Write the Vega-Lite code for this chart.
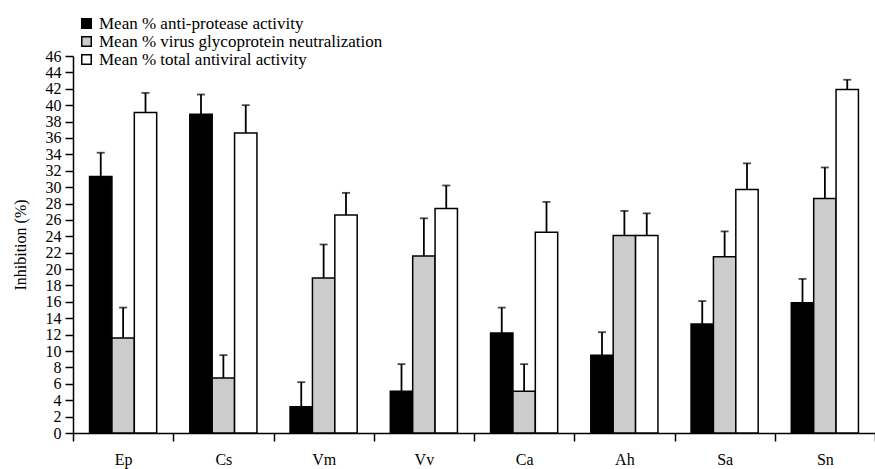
{
  "$schema": "https://vega.github.io/schema/vega-lite/v6.json",
  "width": 802,
  "height": 377,
  "autosize": {"type": "none"},
  "padding": {"left": 73, "top": 56, "right": 0, "bottom": 36},
  "background": "white",
  "config": {
    "view": {"stroke": null},
    "font": "Liberation Serif",
    "axis": {"domainColor": "black", "tickColor": "black", "labelColor": "black", "titleColor": "black", "grid": false, "domainWidth": 1.5, "tickWidth": 1.5, "labelFont": "Liberation Serif", "titleFont": "Liberation Serif"},
    "legend": {"labelFont": "Liberation Serif"}
  },
  "data": {
    "values": [
      {"group": "Ep", "series": "Mean % anti-protease activity", "value": 31.3, "upper": 34.2},
      {"group": "Ep", "series": "Mean % virus glycoprotein neutralization", "value": 11.6, "upper": 15.3},
      {"group": "Ep", "series": "Mean % total antiviral activity", "value": 39.1, "upper": 41.5},
      {"group": "Cs", "series": "Mean % anti-protease activity", "value": 38.9, "upper": 41.3},
      {"group": "Cs", "series": "Mean % virus glycoprotein neutralization", "value": 6.7, "upper": 9.5},
      {"group": "Cs", "series": "Mean % total antiviral activity", "value": 36.6, "upper": 40.0},
      {"group": "Vm", "series": "Mean % anti-protease activity", "value": 3.2, "upper": 6.2},
      {"group": "Vm", "series": "Mean % virus glycoprotein neutralization", "value": 18.9, "upper": 23.0},
      {"group": "Vm", "series": "Mean % total antiviral activity", "value": 26.6, "upper": 29.3},
      {"group": "Vv", "series": "Mean % anti-protease activity", "value": 5.1, "upper": 8.4},
      {"group": "Vv", "series": "Mean % virus glycoprotein neutralization", "value": 21.6, "upper": 26.2},
      {"group": "Vv", "series": "Mean % total antiviral activity", "value": 27.4, "upper": 30.2},
      {"group": "Ca", "series": "Mean % anti-protease activity", "value": 12.2, "upper": 15.3},
      {"group": "Ca", "series": "Mean % virus glycoprotein neutralization", "value": 5.1, "upper": 8.4},
      {"group": "Ca", "series": "Mean % total antiviral activity", "value": 24.5, "upper": 28.2},
      {"group": "Ah", "series": "Mean % anti-protease activity", "value": 9.5, "upper": 12.3},
      {"group": "Ah", "series": "Mean % virus glycoprotein neutralization", "value": 24.1, "upper": 27.1},
      {"group": "Ah", "series": "Mean % total antiviral activity", "value": 24.1, "upper": 26.8},
      {"group": "Sa", "series": "Mean % anti-protease activity", "value": 13.3, "upper": 16.1},
      {"group": "Sa", "series": "Mean % virus glycoprotein neutralization", "value": 21.5, "upper": 24.6},
      {"group": "Sa", "series": "Mean % total antiviral activity", "value": 29.7, "upper": 32.9},
      {"group": "Sn", "series": "Mean % anti-protease activity", "value": 15.9, "upper": 18.8},
      {"group": "Sn", "series": "Mean % virus glycoprotein neutralization", "value": 28.6, "upper": 32.4},
      {"group": "Sn", "series": "Mean % total antiviral activity", "value": 41.9, "upper": 43.1}
    ]
  },
  "encoding": {
    "x": {
      "field": "group", "type": "nominal", "sort": null,
      "scale": {"paddingInner": 0, "paddingOuter": 0},
      "axis": {"title": null, "labelAngle": 0, "labelFontSize": 16, "tickSize": 8, "tickBand": "extent", "labelPadding": 10}
    },
    "xOffset": {
      "field": "series", "type": "nominal", "sort": null,
      "scale": {"paddingInner": 0, "paddingOuter": 0.74}
    }
  },
  "layer": [
    {
      "mark": {"type": "bar", "stroke": "black", "strokeWidth": 1.5},
      "encoding": {
        "y": {
          "field": "value", "type": "quantitative",
          "scale": {"domain": [0, 46], "nice": false},
          "axis": {"title": "Inhibition (%)", "titleFontSize": 16, "titleFontWeight": "normal", "titlePadding": 17, "labelFontSize": 16, "tickSize": 8, "labelPadding": 4, "labelOverlap": false, "labelFlush": false,
            "values": [0,2,4,6,8,10,12,14,16,18,20,22,24,26,28,30,32,34,36,38,40,42,44,46]}
        },
        "fill": {
          "field": "series", "type": "nominal", "sort": null,
          "scale": {
            "domain": ["Mean % anti-protease activity", "Mean % virus glycoprotein neutralization", "Mean % total antiviral activity"],
            "range": ["#000000", "#cccccc", "#ffffff"]
          },
          "legend": {
            "title": null, "orient": "none", "legendX": 5, "legendY": -41,
            "symbolType": "square", "symbolSize": 90, "symbolStrokeColor": "black", "symbolStrokeWidth": 1.5,
            "labelFontSize": 17, "labelColor": "black", "labelLimit": 0, "rowPadding": 0, "labelOffset": 4
          }
        }
      }
    },
    {
      "mark": {"type": "rule", "color": "black", "strokeWidth": 1.8},
      "encoding": {
        "y": {"field": "value", "type": "quantitative",
          "axis": {"title": "Inhibition (%)", "titleFontSize": 16, "titleFontWeight": "normal", "titlePadding": 17, "labelFontSize": 16, "tickSize": 8, "labelPadding": 4, "labelOverlap": false, "labelFlush": false,
            "values": [0,2,4,6,8,10,12,14,16,18,20,22,24,26,28,30,32,34,36,38,40,42,44,46]}},
        "y2": {"field": "upper"}
      }
    },
    {
      "mark": {"type": "tick", "color": "black", "thickness": 1.8, "size": 8},
      "encoding": {
        "y": {"field": "upper", "type": "quantitative",
          "axis": {"title": "Inhibition (%)", "titleFontSize": 16, "titleFontWeight": "normal", "titlePadding": 17, "labelFontSize": 16, "tickSize": 8, "labelPadding": 4, "labelOverlap": false, "labelFlush": false,
            "values": [0,2,4,6,8,10,12,14,16,18,20,22,24,26,28,30,32,34,36,38,40,42,44,46]}}
      }
    }
  ]
}
